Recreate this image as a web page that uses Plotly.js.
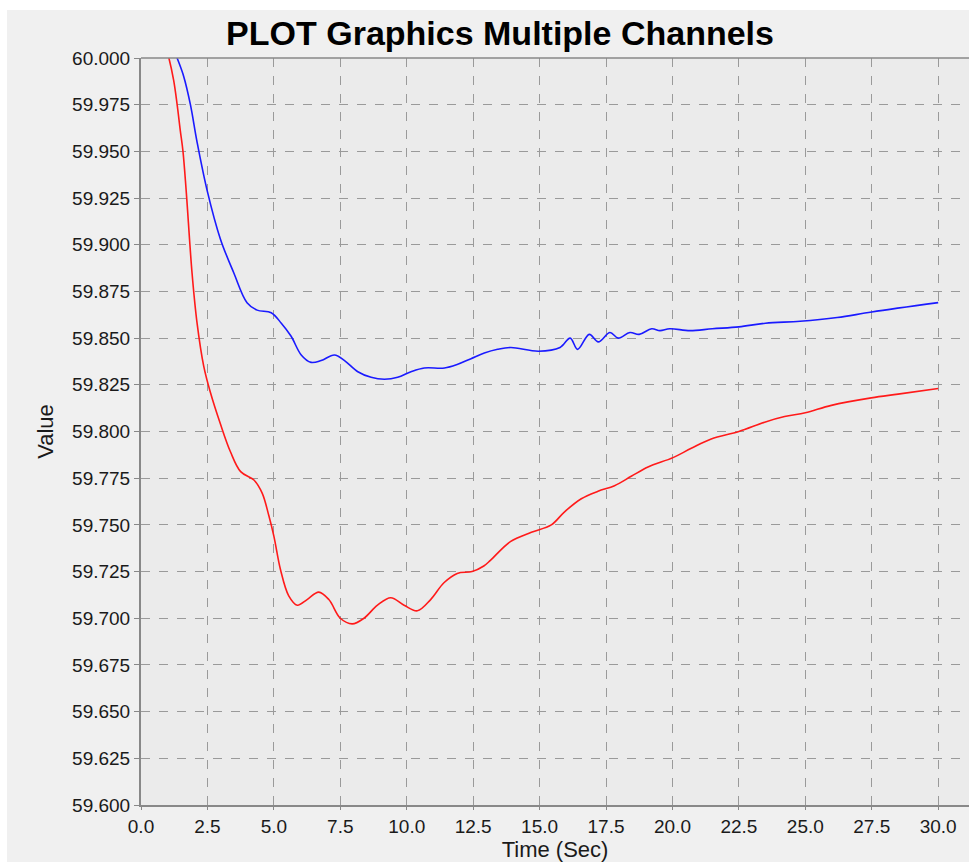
<!DOCTYPE html>
<html>
<head>
<meta charset="utf-8">
<script src="https://cdn.plot.ly/plotly-3.0.1.min.js"></script>
<style>
  html, body { margin: 0; padding: 0; background: #ffffff; }
  #chart { position: absolute; left: 7px; top: 10px; width: 962px; height: 852px; }
</style>
</head>
<body>
<div id="chart"></div>
<script>
// Channel 1 (red)
const redTime = [0.95, 1.05, 1.23, 1.36, 1.48, 1.58, 1.70, 1.92, 2.11, 2.36, 2.61, 2.99, 3.37, 3.75, 4.25, 4.56, 4.81, 5.0, 5.25, 5.56, 5.88, 6.25, 6.69, 7.07, 7.5, 7.95, 8.39, 8.9, 9.4, 9.9, 10.4, 10.9, 11.4, 11.9, 12.46, 12.9, 13.15, 13.9, 14.69, 15.44, 15.94, 16.57, 17.2, 17.82, 18.45, 19.08, 20.02, 20.71, 21.46, 22.5, 23.47, 24.22, 25.0, 25.98, 27.48, 28.49, 30.0];
const redValues = [60.005, 60.0, 59.988, 59.975, 59.961, 59.950, 59.929, 59.885, 59.858, 59.835, 59.821, 59.804, 59.789, 59.7785, 59.774, 59.767, 59.755, 59.744, 59.726, 59.712, 59.707, 59.710, 59.714, 59.710, 59.700, 59.697, 59.700, 59.707, 59.711, 59.707, 59.704, 59.710, 59.719, 59.724, 59.725, 59.728, 59.731, 59.741, 59.746, 59.750, 59.757, 59.764, 59.768, 59.771, 59.776, 59.781, 59.786, 59.791, 59.796, 59.800, 59.805, 59.808, 59.810, 59.814, 59.818, 59.820, 59.823];

// Channel 2 (blue)
const blueTime = [1.2, 1.36, 1.61, 1.86, 2.11, 2.49, 2.99, 3.49, 3.99, 4.37, 4.9, 5.28, 5.65, 6.03, 6.4, 6.78, 7.28, 7.66, 8.16, 8.66, 9.16, 9.66, 10.16, 10.66, 11.42, 11.92, 12.42, 12.92, 13.42, 13.92, 14.96, 15.77, 16.15, 16.43, 16.87, 17.21, 17.65, 17.96, 18.40, 18.75, 19.22, 19.53, 19.9, 20.66, 21.5, 22.5, 23.5, 24.8, 26.2, 27.5, 30.0];
const blueValues = [60.006, 60.0, 59.990, 59.975, 59.955, 59.929, 59.903, 59.885, 59.869, 59.865, 59.8636, 59.858, 59.851, 59.841, 59.837, 59.838, 59.841, 59.838, 59.832, 59.829, 59.828, 59.829, 59.832, 59.834, 59.834, 59.836, 59.839, 59.842, 59.844, 59.845, 59.843, 59.845, 59.850, 59.844, 59.852, 59.848, 59.853, 59.850, 59.853, 59.852, 59.855, 59.854, 59.855, 59.854, 59.855, 59.856, 59.858, 59.859, 59.861, 59.864, 59.869];

const xTickVals = [0, 2.5, 5, 7.5, 10, 12.5, 15, 17.5, 20, 22.5, 25, 27.5, 30];
const yTickVals = [59.6, 59.625, 59.65, 59.675, 59.7, 59.725, 59.75, 59.775, 59.8, 59.825, 59.85, 59.875, 59.9, 59.925, 59.95, 59.975, 60.0];

const font = "Liberation Sans, Arial, Helvetica, sans-serif";

const traces = [
  { x: redTime, y: redValues, type: 'scatter', mode: 'lines', name: 'Channel 1',
    line: { color: '#ff1a1a', width: 1.6, shape: 'spline', smoothing: 1 } },
  { x: blueTime, y: blueValues, type: 'scatter', mode: 'lines', name: 'Channel 2',
    line: { color: '#1a1aff', width: 1.6, shape: 'spline', smoothing: 1 } }
];

const layout = {
  width: 962, height: 852,
  margin: { l: 134, r: 0, t: 48, b: 57 },
  paper_bgcolor: '#f0f0f0',
  plot_bgcolor: '#ebebeb',
  showlegend: false,
  font: { family: font, color: '#1a1a1a' },
  title: {
    text: '<b>PLOT Graphics Multiple Channels</b>',
    font: { family: font, size: 34, color: '#000000' },
    xref: 'container', x: 0.5125, xanchor: 'center',
    yref: 'container', y: 0.973, yanchor: 'middle'
  },
  xaxis: {
    range: [0, 31.16],
    tickvals: xTickVals,
    tickformat: '.1f',
    ticks: 'outside', ticklen: 3, tickcolor: '#888888', tickwidth: 1,
    showline: true, linecolor: '#888888', linewidth: 2,
    showgrid: true, gridcolor: '#9a9a9a', gridwidth: 1, griddash: 'dash',
    zeroline: false,
    tickfont: { family: font, size: 19, color: '#1a1a1a' },
    title: { text: 'Time (Sec)', font: { family: font, size: 22, color: '#1a1a1a' }, standoff: 2 }
  },
  yaxis: {
    range: [59.6, 60.0],
    tickvals: yTickVals,
    tickformat: '.3f',
    ticks: 'outside', ticklen: 5, tickcolor: '#888888', tickwidth: 1,
    showline: true, linecolor: '#888888', linewidth: 2,
    showgrid: true, gridcolor: '#9a9a9a', gridwidth: 1, griddash: 'dash',
    zeroline: false,
    tickfont: { family: font, size: 19, color: '#1a1a1a' },
    title: { text: 'Value', font: { family: font, size: 22, color: '#1a1a1a' }, standoff: 12 }
  },
  shapes: [
    { type: 'line', xref: 'paper', yref: 'paper', x0: 0, x1: 1, y0: 1, y1: 1,
      line: { color: '#888888', width: 1.5 } }
  ]
};

Plotly.newPlot('chart', traces, layout, { displayModeBar: false, staticPlot: true });
</script>
</body>
</html>
